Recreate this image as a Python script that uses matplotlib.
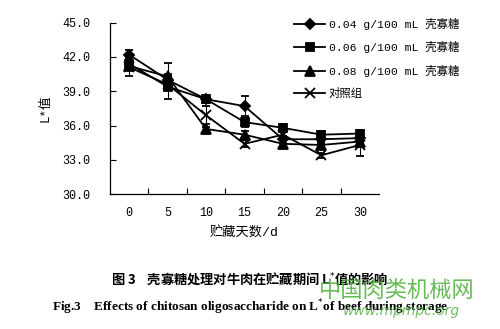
import matplotlib
matplotlib.use("Agg")
import matplotlib.pyplot as plt
from matplotlib.lines import Line2D

mono = ['Liberation Mono', 'Noto Sans CJK SC']
plt.rcParams['font.family'] = mono

days = [0, 5, 10, 15, 20, 25, 30]
series_labels = ["0.04 g/100 mL 壳寡糖", "0.06 g/100 mL 壳寡糖", "0.08 g/100 mL 壳寡糖", "对照组"]
l_004 = [42.2, 40.0, 38.3, 37.7, 34.8, 34.8, 34.9]
l_006 = [41.4, 39.4, 38.3, 36.3, 35.8, 35.2, 35.3]
l_008 = [41.2, 40.3, 35.7, 35.2, 34.4, 34.3, 34.6]
l_ctrl = [41.1, 39.6, 36.9, 34.4, 35.2, 33.4, 34.3]
err_004 = [0.45, 0.3, 0.2, 0.9, 0.3, 0.2, 0.2]
err_006 = [0.3, 1.1, 0.3, 0.4, 0.3, 0.3, 0.3]
err_008 = [0.3, 1.2, 0.2, 0.3, 0.3, 0.2, 0.2]
err_ctrl = [0.8, 0.3, 0.8, 0.3, 0.3, 0.2, 1.0]
yticks = [30.0, 33.0, 36.0, 39.0, 42.0, 45.0]

fig = plt.figure(figsize=(5.0, 3.29), dpi=100)
ax = fig.add_axes([0.22, 0.41, 0.538, 0.521])

styles = [("D", 5), ("s", 6), ("^", 6.5), ("x", 7)]
values = [l_004, l_006, l_008, l_ctrl]
errs = [err_004, err_006, err_008, err_ctrl]
handles = []
for (mk, ms), v, e, lab in zip(styles, values, errs, series_labels):
    ax.errorbar(days, v, yerr=e, color="black", marker=mk, ms=ms, lw=1.3,
                mew=1.3, capsize=3, elinewidth=0.8, capthick=0.8)
    handles.append(Line2D([], [], color="black", marker=mk, ms=ms, lw=1.3, mew=1.3, label=lab))

ax.set_xlim(-2.5, 32.5)
ax.set_ylim(30, 45)
ax.set_yticks(yticks)
ax.set_yticklabels([f"{t:.1f}" for t in yticks])
ax.set_xticks(days)
ax.set_xticks([d + 2.5 for d in days[:-1]], minor=True)
ax.tick_params(axis="x", which="major", length=0, pad=9, labelsize=8.5)
ax.tick_params(axis="x", which="minor", direction="in", length=4, width=0.8)
ax.tick_params(axis="y", direction="in", length=4, width=0.8, labelsize=8.5, pad=14)
for s in ["top", "right"]:
    ax.spines[s].set_visible(False)
for s in ["left", "bottom"]:
    ax.spines[s].set_linewidth(0.9)

ax.set_ylabel("L*值", fontsize=9, labelpad=8)
ax.set_xlabel("贮藏天数/d", fontsize=9.5, labelpad=6)

leg = fig.legend(handles=handles, loc="upper left", bbox_to_anchor=(0.578, 0.96),
                 frameon=False, fontsize=8.2, handlelength=2.8, labelspacing=1.0,
                 handletextpad=0.3, borderaxespad=0)

fig.text(0.5, 0.152, "图 3    壳寡糖处理对牛肉在贮藏期间 L$^{*}$值的影响", ha="center", va="center",
         fontsize=9.5, fontweight="bold", family=["Noto Sans CJK SC", "DejaVu Serif"])
fig.text(0.5, 0.067, "Fig.3    Effects of chitosan oligosaccharide on L$^{*}$of beef during storage",
         ha="center", va="center", fontsize=9.5, fontweight="bold", family=["Liberation Serif"])

fig.text(0.95, 0.118, "中国肉类机械网", ha="right", va="center", fontsize=16, color="#4caf3a",
         alpha=0.85, family=["Noto Sans CJK SC"])
fig.text(0.92, 0.055, "www.mpmpc.org", ha="right", va="center", fontsize=10, color="#4caf3a",
         alpha=0.8, style="italic", family=["DejaVu Sans"])

fig.savefig("out.png", dpi=100)
